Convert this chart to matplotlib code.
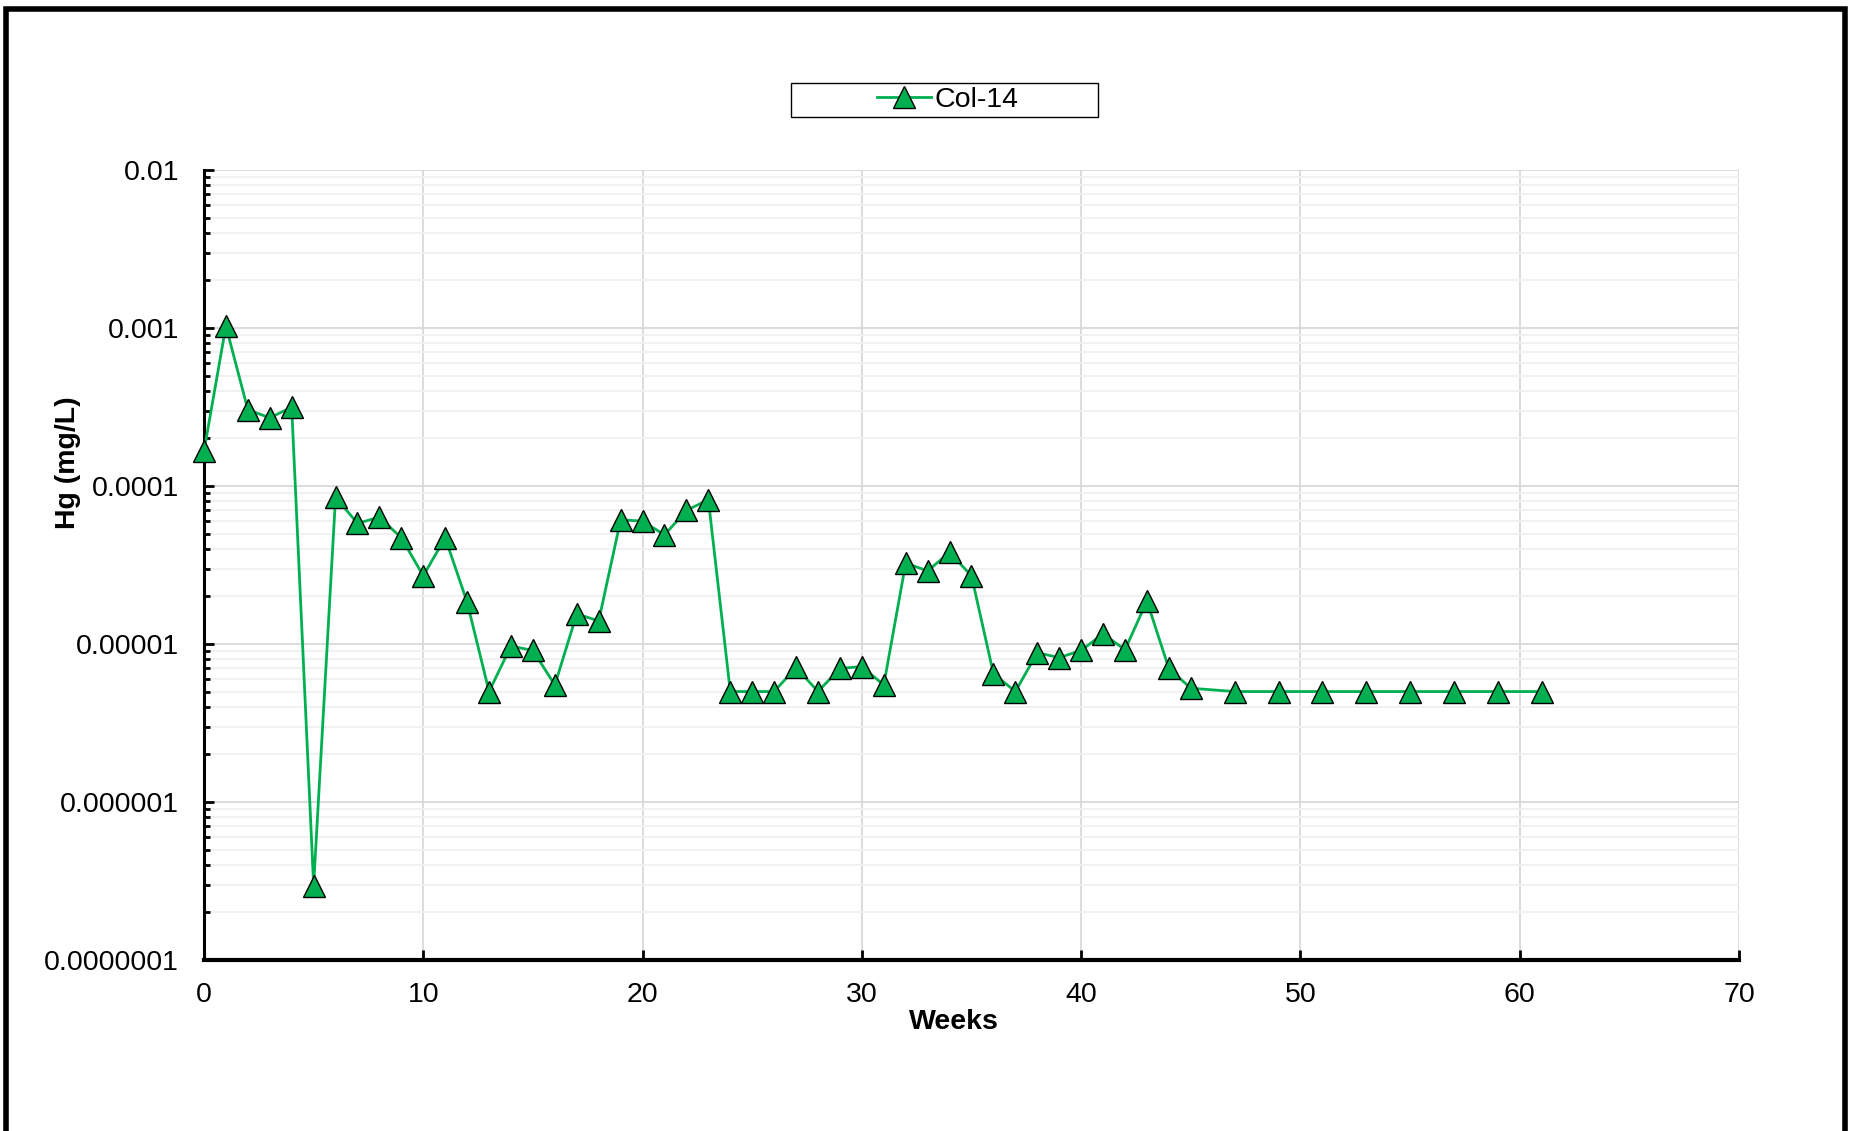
import numpy as np
import matplotlib
matplotlib.use('Agg')
import matplotlib.pyplot as plt
import matplotlib.patches as patch
from matplotlib.ticker import FixedLocator, LogLocator, NullFormatter

plt.rcParams['font.family'] = ['Liberation Sans', 'DejaVu Sans']

# Col-14 mercury concentration by week
weeks = [0, 1, 2, 3, 4, 5, 6, 7, 8, 9, 10, 11, 12, 13, 14, 15, 16, 17, 18, 19,
         20, 21, 22, 23, 24, 25, 26, 27, 28, 29, 30, 31, 32, 33, 34, 35, 36, 37,
         38, 39, 40, 41, 42, 43, 44, 45, 47, 49, 51, 53, 55, 57, 59, 61]
hg = [1.66e-4, 1.03e-3, 3.04e-4, 2.7e-4, 3.15e-4, 2.96e-7, 8.5e-5, 5.8e-5,
      6.35e-5, 4.7e-5, 2.7e-5, 4.7e-5, 1.84e-5, 5e-6, 9.7e-6, 9.1e-6, 5.5e-6,
      1.55e-5, 1.4e-5, 6.1e-5, 6.0e-5, 4.9e-5, 7.0e-5, 8.2e-5, 5e-6, 5e-6,
      5e-6, 7.1e-6, 5e-6, 7.0e-6, 7.2e-6, 5.5e-6, 3.25e-5, 2.9e-5, 3.8e-5,
      2.7e-5, 6.5e-6, 5e-6, 8.8e-6, 8.2e-6, 9.1e-6, 1.16e-5, 9.2e-6, 1.87e-5,
      7.0e-6, 5.25e-6, 5e-6, 5e-6, 5e-6, 5e-6, 5e-6, 5e-6, 5e-6, 5e-6]

y_ticks = [1e-7, 1e-6, 1e-5, 1e-4, 1e-3, 1e-2]
y_labels = ['0.0000001', '0.000001', '0.00001', '0.0001', '0.001', '0.01']
x_ticks = [0, 10, 20, 30, 40, 50, 60, 70]

green = '#00B050'
fs = 20.5

fig = plt.figure(figsize=(18.51, 11.31), dpi=100)
ax = fig.add_axes([0.1102, 0.1512, 0.8293, 0.6985])

ax.plot(weeks, hg, color=green, lw=2.0, marker='^', markersize=15.5,
        markerfacecolor=green, markeredgecolor='black', markeredgewidth=1.0,
        label='Col-14', zorder=3, clip_on=False)

ax.set_yscale('log')
ax.set_ylim(1e-7, 1e-2)
ax.set_xlim(0, 70)

ax.yaxis.set_major_locator(FixedLocator(y_ticks))
ax.set_yticklabels(y_labels)
ax.yaxis.set_minor_locator(LogLocator(base=10, subs=np.arange(2, 10)))
ax.yaxis.set_minor_formatter(NullFormatter())
ax.set_xticks(x_ticks)

ax.grid(True, which='major', axis='both', color='#D9D9D9', lw=1.3, zorder=0)
ax.grid(True, which='minor', axis='y', color='#F0F0F0', lw=1.3, zorder=0)
ax.set_axisbelow(True)

for s in ['top', 'right']:
    ax.spines[s].set_visible(False)
ax.spines['left'].set_linewidth(2.2)
ax.spines['bottom'].set_linewidth(3.0)

ax.tick_params(axis='both', which='major', direction='in', length=7, width=2,
               labelsize=fs)
ax.tick_params(axis='y', which='minor', direction='in', length=4, width=2)
ax.tick_params(axis='y', pad=18)
ax.tick_params(axis='x', pad=16)

ax.set_xlabel('Weeks', fontsize=fs, fontweight='bold', va='center')
ax.xaxis.set_label_coords(0.4886, -0.079)
ax.set_ylabel('Hg (mg/L)', fontsize=fs, fontweight='bold', va='center')
ax.yaxis.set_label_coords(-0.0883, 0.629)

# legend box drawn separately so it can be as wide as the original
leg = fig.legend(loc='center', bbox_to_anchor=(0.512, 0.9116), fontsize=fs,
                 handlelength=1.9, handletextpad=0.15, frameon=False,
                 borderaxespad=0)
fig.patches.append(patch.Rectangle((791 / 1851, 1 - 117 / 1131), 307 / 1851, 34 / 1131,
                                   transform=fig.transFigure, fill=False,
                                   edgecolor='black', lw=1.0, zorder=10))

# outer black frame
fig.patches.append(patch.Rectangle((6 / 1851, -0.1), 1839 / 1851, 1.1 - 9 / 1131,
                                   transform=fig.transFigure, fill=False,
                                   edgecolor='black', lw=4, zorder=10))

fig.savefig('out.png', dpi=100)
